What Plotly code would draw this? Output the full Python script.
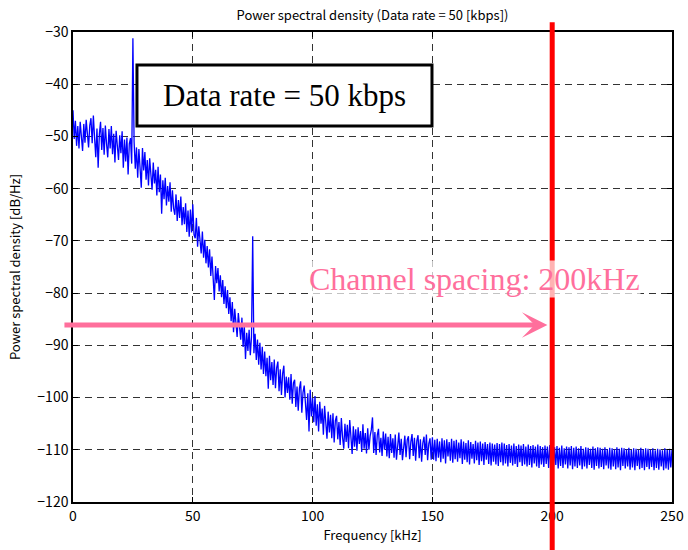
import plotly.graph_objects as go

# Frequency axis (kHz), 0.5 kHz resolution
freq_step_khz = 0.5
freq_khz = [i * freq_step_khz for i in range(501)]

# Power spectral density [dB/Hz] (0 .. 250 kHz)
psd_db = [
    # 0 - 9.5
    -45.0, -50.5, -47.0, -51.8, -48.0, -52.3, -47.2, -50.6, -52.8, -47.6, -51.2, -46.8, -50.4, -52.1, -47.9, -46.5, -51.3, -46.0, -50.2, -54.0,
    # 10 - 19.5
    -48.5, -56.0, -49.6, -47.2, -52.6, -48.4, -53.5, -47.9, -51.4, -54.0, -48.6, -52.3, -48.0, -53.4, -49.5, -55.0, -48.9, -52.6, -54.5, -49.8,
    # 20 - 29.5
    -53.2, -49.0, -56.0, -50.6, -54.8, -50.2, -57.3, -51.4, -50.3, -55.2, -31.2, -51.0, -56.2, -52.1, -57.9, -52.4, -55.6, -59.8, -52.2, -56.5,
    # 30 - 39.5
    -53.0, -58.3, -54.5, -59.4, -54.2, -57.6, -60.2, -55.0, -59.0, -56.4, -61.3, -55.8, -60.7, -57.3, -64.8, -58.4, -62.0, -57.9, -63.2, -59.5,
    # 40 - 49.5
    -62.5, -58.8, -64.4, -60.3, -63.8, -65.0, -61.1, -66.2, -62.2, -65.6, -61.5, -67.0, -63.5, -66.8, -62.8, -68.3, -64.2, -69.2, -64.0, -68.4,
    # 50 - 59.5
    -63.0, -68.8, -69.5, -65.6, -71.1, -67.2, -70.6, -72.4, -68.2, -73.2, -69.8, -74.3, -71.0, -75.1, -71.6, -76.7, -73.0, -77.9, -81.3, -74.8,
    # 60 - 69.5
    -78.1, -75.2, -79.7, -76.6, -80.8, -77.5, -82.1, -78.7, -82.9, -79.4, -84.0, -80.8, -85.4, -81.7, -87.5, -83.0, -86.3, -88.4, -83.8, -87.2,
    # 70 - 79.5
    -88.9, -84.7, -90.3, -86.2, -92.6, -87.6, -91.1, -87.0, -91.9, -88.4, -69.1, -91.5, -87.8, -92.8, -88.9, -93.7, -89.5, -94.6, -90.3, -95.5,
    # 80 - 89.5
    -91.2, -95.9, -92.4, -98.3, -92.0, -96.7, -93.2, -97.6, -92.7, -98.2, -94.3, -93.1, -98.8, -94.6, -99.5, -95.4, -93.9, -100.0, -96.0, -99.1,
    # 90 - 99.5
    -96.1, -100.4, -95.5, -101.2, -97.2, -96.6, -101.8, -97.9, -102.5, -98.3, -96.9, -102.9, -99.0, -97.7, -102.2, -104.3, -99.2, -106.5, -98.5, -103.6,
    # 100 - 109.5
    -100.1, -104.7, -99.7, -105.4, -101.3, -106.5, -100.8, -105.0, -102.1, -107.1, -101.6, -105.9, -107.9, -102.7, -106.7, -103.3, -107.8, -103.0, -108.6, -104.4,
    # 110 - 119.5
    -103.5, -108.0, -104.7, -109.1, -103.9, -107.6, -109.8, -105.0, -108.5, -105.2, -109.7, -104.3, -108.8, -110.8, -105.5, -109.4, -106.1, -110.2, -105.7, -108.9,
    # 120 - 129.5
    -106.4, -110.4, -105.1, -109.8, -106.8, -110.7, -105.9, -110.0, -107.4, -106.2, -103.8, -110.6, -106.6, -111.0, -107.2, -106.0, -110.5, -107.7, -111.2, -106.5,
    # 130 - 139.5
    -110.0, -106.9, -111.3, -107.5, -111.6, -107.0, -110.6, -107.8, -111.5, -107.1, -111.9, -108.2, -106.7, -111.0, -107.9, -112.0, -108.6, -107.3, -111.4, -108.1,
    # 140 - 149.5
    -107.4, -111.8, -108.5, -107.0, -111.2, -107.7, -112.1, -108.3, -107.2, -111.6, -108.0, -112.3, -108.7, -107.5, -111.0, -107.1, -112.0, -108.8, -107.8, -111.9,
    # 150 - 159.5
    -107.6, -111.9, -108.1, -112.2, -107.9, -111.5, -108.4, -112.4, -107.8, -111.7, -108.2, -112.6, -108.0, -111.3, -108.5, -112.1, -107.9, -112.5, -108.3, -111.8,
    # 160 - 169.5
    -108.1, -112.3, -108.6, -111.6, -108.0, -112.7, -108.4, -111.9, -108.7, -112.4, -108.2, -112.8, -108.5, -111.7, -108.9, -112.6, -108.3, -112.0, -108.6, -112.9,
    # 170 - 179.5
    -108.4, -112.2, -108.8, -112.9, -108.5, -111.9, -108.9, -112.7, -108.6, -113.0, -108.8, -112.3, -109.0, -112.8, -108.7, -113.1, -108.9, -112.4, -108.6, -113.0,
    # 180 - 189.5
    -108.8, -112.6, -109.1, -113.2, -108.9, -112.5, -109.2, -113.0, -108.8, -112.7, -109.3, -113.3, -109.0, -112.4, -109.2, -113.1, -108.9, -112.8, -109.4, -113.2,
    # 190 - 199.5
    -109.0, -112.9, -109.3, -113.4, -109.1, -112.6, -109.4, -113.2, -109.0, -113.5, -109.3, -112.8, -109.5, -113.3, -109.2, -112.7, -109.4, -113.5, -109.1, -113.0,
    # 200 - 209.5
    -109.2, -113.4, -109.5, -112.9, -109.3, -113.6, -109.6, -113.1, -109.2, -113.5, -109.7, -112.8, -109.4, -113.6, -109.5, -113.0, -109.3, -113.7, -109.6, -113.2,
    # 210 - 219.5
    -109.4, -113.5, -109.7, -113.0, -109.3, -113.7, -109.8, -113.2, -109.5, -113.6, -109.6, -112.9, -109.8, -113.5, -109.4, -113.8, -109.7, -113.1, -109.5, -113.6,
    # 220 - 229.5
    -109.6, -113.3, -109.8, -113.7, -109.5, -113.0, -109.9, -113.6, -109.6, -113.8, -109.7, -113.2, -109.9, -113.7, -109.5, -113.4, -109.8, -113.9, -109.6, -113.1,
    # 230 - 239.5
    -109.7, -113.6, -109.9, -113.2, -109.6, -113.8, -110.0, -113.4, -109.7, -113.9, -109.8, -113.1, -110.0, -113.7, -109.6, -113.5, -109.9, -113.9, -109.7, -113.3,
    # 240 - 249.5
    -109.8, -113.7, -110.0, -113.3, -109.7, -113.9, -110.1, -113.5, -109.8, -113.8, -109.9, -113.2, -110.1, -113.9, -109.7, -113.6, -110.0, -113.8, -109.8, -113.4,
    # 250
    -110.0,
]

x_ticks = [0, 50, 100, 150, 200, 250]
y_ticks = [-120, -110, -100, -90, -80, -70, -60, -50, -40, -30]

channel_spacing_khz = 200
arrow_start_khz = -4.2
arrow_end_khz = 198
arrow_level_db = -86.1

title_text = "Power spectral density (Data rate = 50 [kbps])"
x_title = "Frequency [kHz]"
y_title = "Power spectral density [dB/Hz]"
box_text = "Data rate = 50 kbps"
channel_text = "Channel spacing: 200kHz"

sans = "Noto Sans CJK JP, DejaVu Sans, sans-serif"
serif = "Liberation Serif, Times New Roman, serif"
pink = "#FF6F9C"

fig = go.Figure()
fig.add_trace(go.Scatter(
    x=freq_khz, y=psd_db, mode="lines",
    line=dict(color="#0000FF", width=1.3),
    showlegend=False, hoverinfo="x+y",
))

axis_common = dict(
    showline=True, linecolor="black", linewidth=1.5, mirror="ticks",
    ticks="inside", ticklen=5, tickcolor="black",
    showgrid=True, gridcolor="#333333", gridwidth=1, griddash="7px,5px",
    zeroline=False, tickfont=dict(family=sans, size=14, color="black"),
    automargin=False,
)

fig.update_xaxes(range=[0, 250], tickvals=x_ticks, ticktext=[str(v) for v in x_ticks],
                 title=dict(text=x_title, font=dict(family=sans, size=13, color="black"), standoff=4),
                 **axis_common)
fig.update_yaxes(range=[-120, -30], tickvals=y_ticks, ticktext=[("\u2212" + str(-v)) for v in y_ticks],
                 title=dict(text=y_title, font=dict(family=sans, size=13, color="black"), standoff=14),
                 **axis_common)

# Red channel line at 200 kHz
fig.add_shape(type="line", xref="x", yref="paper",
              x0=channel_spacing_khz, x1=channel_spacing_khz, y0=-0.102, y1=1.021,
              line=dict(color="#FF0000", width=5), layer="above")

# Data-rate box
fig.add_shape(type="rect", xref="paper", yref="paper",
              x0=0.1068, x1=0.5993, y0=0.800, y1=0.9298,
              line=dict(color="black", width=3), fillcolor="white", layer="above")
fig.add_annotation(xref="paper", yref="paper", x=(0.1068 + 0.5993) / 2, y=(0.800 + 0.9298) / 2,
                   text=box_text, showarrow=False,
                   font=dict(family=serif, size=31, color="black"),
                   xanchor="center", yanchor="middle")

# Channel spacing text
fig.add_annotation(xref="paper", yref="paper", x=(474 - 73) / 599, y=(502 - 279) / 470,
                   text=channel_text, showarrow=False,
                   font=dict(family=serif, size=32, color=pink),
                   bgcolor="rgba(255,255,255,0.7)", borderpad=0,
                   xanchor="center", yanchor="middle")

# Pink arrow
fig.add_annotation(x=arrow_end_khz, y=arrow_level_db, ax=arrow_start_khz, ay=arrow_level_db,
                   xref="x", yref="y", axref="x", ayref="y",
                   text="", showarrow=True, arrowhead=3, arrowsize=0.85,
                   arrowwidth=5, arrowcolor=pink)

fig.update_layout(
    width=688, height=550,
    margin=dict(l=73, r=16, t=32, b=48, autoexpand=False),
    paper_bgcolor="white", plot_bgcolor="white",
    title=dict(text=title_text, x=(372.5) / 688, xanchor="center", y=1 - 15 / 550, yanchor="middle",
               font=dict(family=sans, size=13, color="black")),
)

fig.write_html("out.html",
               config={"displayModeBar": False},
               post_script="document.body.style.margin='0';document.body.style.overflow='hidden';")
